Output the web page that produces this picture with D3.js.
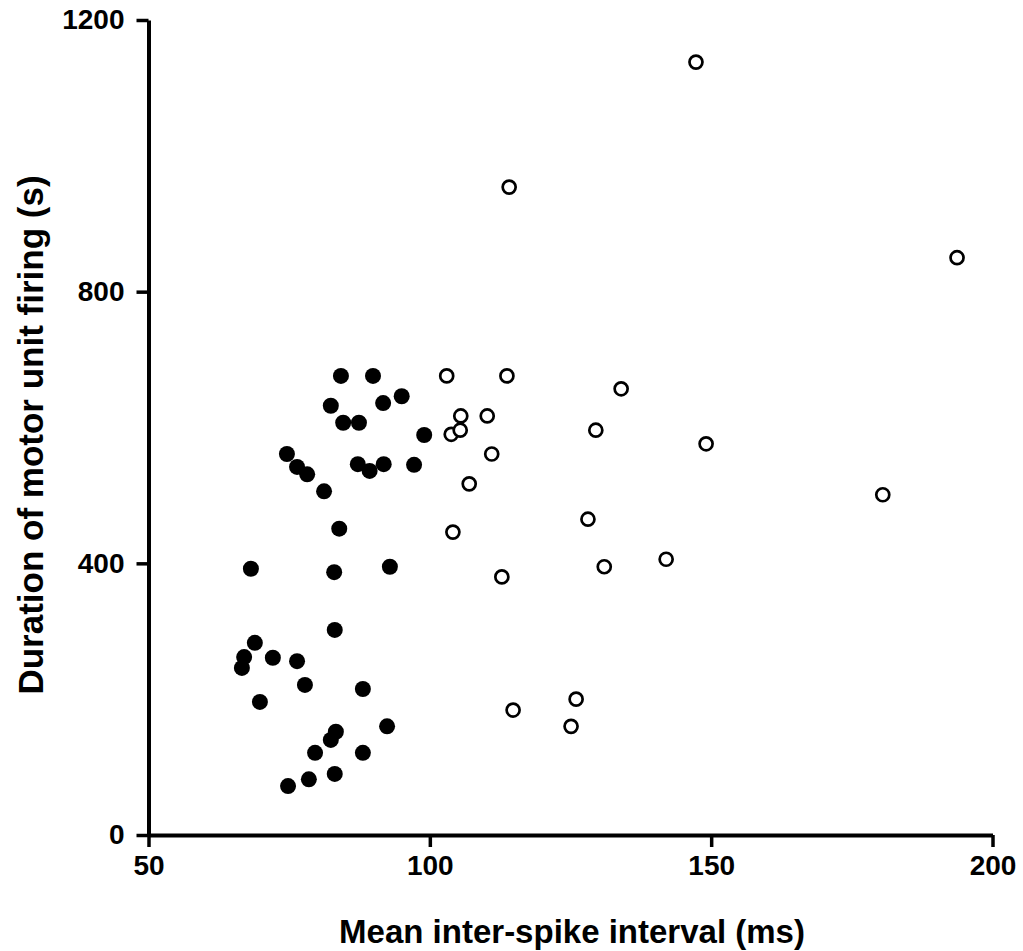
<!DOCTYPE html>
<html>
<head>
<meta charset="utf-8">
<script src="https://cdn.jsdelivr.net/npm/d3@7"></script>
<style>
  body { margin: 0; background: #fff; }
  text { font-family: "Liberation Sans", Arial, sans-serif; font-weight: bold; }
</style>
</head>
<body>
<div id="chart"></div>
<script>
// filled circles: [interval ms, duration s]
var filledX = [84.2, 89.9, 95.0, 82.4, 91.7, 84.6, 87.4, 99.0, 74.6, 76.4, 78.2, 87.2, 89.3, 91.8, 97.2, 81.2, 83.9, 68.2, 83.0, 92.9, 83.1, 68.9, 67.0, 66.6, 72.1, 76.4, 77.8, 88.1, 69.8, 83.3, 82.4, 92.4, 79.6, 88.1, 78.5, 83.1, 74.8];
var filledY = [676, 676, 646, 632, 636, 607, 607, 589, 561, 542, 531, 546, 536, 546, 545, 506, 451, 392, 387, 395, 302, 283, 262, 246, 261, 256, 221, 215, 196, 152, 140, 160, 121, 121, 82, 90, 72];

// open circles
var openX = [103.0, 113.7, 134.0, 105.5, 110.2, 103.8, 105.4, 129.5, 111.0, 107.0, 104.1, 128.1, 112.8, 131.0, 142.0, 147.3, 193.7, 149.1, 180.5, 114.8, 126.0, 125.1, 114.1];
var openY = [676, 676, 657, 617, 617, 590, 596, 596, 561, 517, 446, 465, 380, 395, 406, 1138, 850, 576, 501, 184, 200, 160, 954];

var xTicks = [50, 100, 150, 200];
var yTicks = [0, 400, 800, 1200];

var margin = { top: 20, right: 30, bottom: 116, left: 148.5 },
  width = 992.5 - margin.left,
  height = 835 - margin.top;

var svg = d3.select("#chart")
  .append("svg")
  .attr("width", 1023)
  .attr("height", 951);

var g = svg.append("g")
  .attr("transform", "translate(" + margin.left + "," + margin.top + ")");

var x = d3.scaleLinear().domain([50, 200]).range([0, width]);
var y = d3.scaleLinear().domain([0, 1200]).range([height, 0]);

// axes
var xAxis = g.append("g")
  .attr("transform", "translate(0," + height + ")")
  .call(d3.axisBottom(x).tickValues(xTicks).tickFormat(d3.format("d"))
    .tickSize(12).tickSizeOuter(0).tickPadding(8));

var yAxis = g.append("g")
  .call(d3.axisLeft(y).tickValues(yTicks).tickFormat(d3.format("d"))
    .tickSize(12).tickSizeOuter(0).tickPadding(12));

[xAxis, yAxis].forEach(function (a) {
  a.attr("font-size", null).attr("font-family", null);
  a.select(".domain").style("stroke", "#000").style("stroke-width", "4px");
  a.selectAll(".tick line").style("stroke", "#000").style("stroke-width", "3.5px");
  a.selectAll(".tick text")
    .style("fill", "#000")
    .style("font-size", "28px")
    .style("font-weight", "bold");
});

// axis titles
svg.append("text")
  .attr("x", 572)
  .attr("y", 943)
  .attr("text-anchor", "middle")
  .style("font-size", "33px")
  .text("Mean inter-spike interval (ms)");

svg.append("text")
  .attr("transform", "translate(43,435) rotate(-90)")
  .attr("text-anchor", "middle")
  .style("font-size", "35px")
  .text("Duration of motor unit firing (s)");

// points
var filled = filledX.map(function (d, i) { return [d, filledY[i]]; });
var open = openX.map(function (d, i) { return [d, openY[i]]; });

g.selectAll(".filled")
  .data(filled)
  .enter()
  .append("circle")
  .attr("class", "filled")
  .attr("cx", function (d) { return x(d[0]); })
  .attr("cy", function (d) { return y(d[1]); })
  .attr("r", 8)
  .style("fill", "#000");

g.selectAll(".open")
  .data(open)
  .enter()
  .append("circle")
  .attr("class", "open")
  .attr("cx", function (d) { return x(d[0]); })
  .attr("cy", function (d) { return y(d[1]); })
  .attr("r", 6.5)
  .style("fill", "#fff")
  .style("stroke", "#000")
  .style("stroke-width", 2.7);
</script>
</body>
</html>
